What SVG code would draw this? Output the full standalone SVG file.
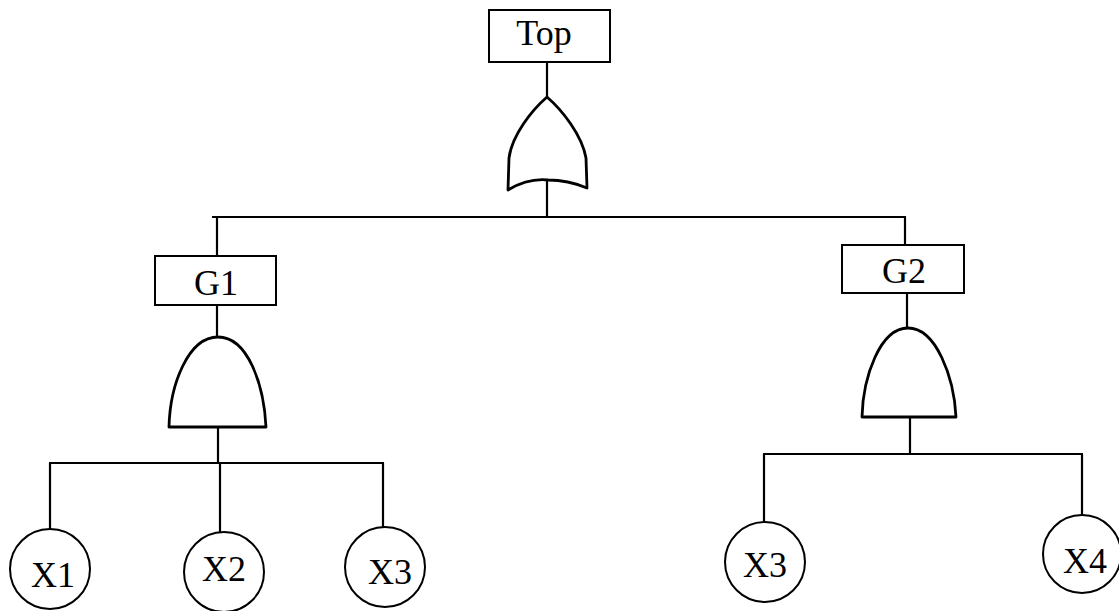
<svg xmlns="http://www.w3.org/2000/svg" width="1119" height="611" viewBox="0 0 1119 611">
<style>
.ln{stroke:#000;stroke-width:2.2;fill:none}
.box{stroke:#000;stroke-width:2;fill:#fff}
.gate{stroke:#000;stroke-width:2.8;fill:#fff;stroke-linejoin:round}
.ev{stroke:#000;stroke-width:2;fill:#fff}
.t{font-family:"Liberation Serif","Times New Roman",serif;font-size:36px;fill:#000;text-anchor:middle}
</style>
<rect width="1119" height="611" fill="#fff"/>
<g id="connectors">
<line class="ln" x1="547" y1="62" x2="547" y2="97"/>
<line class="ln" x1="547" y1="180" x2="547" y2="217"/>
<line class="ln" x1="212" y1="217" x2="906" y2="217"/>
<line class="ln" x1="217" y1="217" x2="217" y2="256"/>
<line class="ln" x1="905" y1="217" x2="905" y2="245"/>
<line class="ln" x1="217" y1="305" x2="217" y2="337"/>
<line class="ln" x1="218" y1="427" x2="218" y2="463"/>
<line class="ln" x1="49" y1="463" x2="384" y2="463"/>
<line class="ln" x1="50" y1="463" x2="50" y2="530"/>
<line class="ln" x1="220" y1="463" x2="220" y2="532"/>
<line class="ln" x1="383" y1="463" x2="383" y2="527"/>
<line class="ln" x1="907" y1="293" x2="907" y2="328"/>
<line class="ln" x1="910" y1="417" x2="910" y2="454"/>
<line class="ln" x1="763" y1="454" x2="1083" y2="454"/>
<line class="ln" x1="764" y1="454" x2="764" y2="522"/>
<line class="ln" x1="1082" y1="454" x2="1082" y2="515"/>
</g>
<g id="Top">
<rect class="box" x="489" y="10" width="121" height="52"/>
<text class="t" x="544" y="45">Top</text>
</g>
<g id="OR_top">
<path class="gate" d="M547 97 C532 110 512 135 509 158 L508 190 Q528 178 548 180 Q568 180 587 188 L586 158 C582 135 562 110 547 97 Z"/>
</g>
<g id="G1">
<rect class="box" x="155" y="256" width="121" height="49"/>
<text class="t" x="216" y="295">G1</text>
</g>
<g id="AND_G1">
<path class="gate" d="M169 427 C170 385 188 337 218 337 C248 337 264 385 266 427 Z"/>
</g>
<g id="G2">
<rect class="box" x="842" y="245" width="122" height="48"/>
<text class="t" x="904" y="283">G2</text>
</g>
<g id="AND_G2">
<path class="gate" d="M862 417 C863 377 880 328 908 328 C936 328 954 377 956 417 Z"/>
</g>
<g id="X1">
<circle class="ev" cx="50" cy="569" r="40"/>
<text class="t" x="53" y="587">X1</text>
</g>
<g id="X2">
<circle class="ev" cx="224" cy="572" r="40"/>
<text class="t" x="224" y="581">X2</text>
</g>
<g id="X3a">
<circle class="ev" cx="385" cy="567" r="40"/>
<text class="t" x="390" y="584">X3</text>
</g>
<g id="X3b">
<circle class="ev" cx="765" cy="562" r="40"/>
<text class="t" x="765" y="577">X3</text>
</g>
<g id="X4">
<circle class="ev" cx="1082" cy="554" r="39"/>
<text class="t" x="1085" y="573">X4</text>
</g>
</svg>
